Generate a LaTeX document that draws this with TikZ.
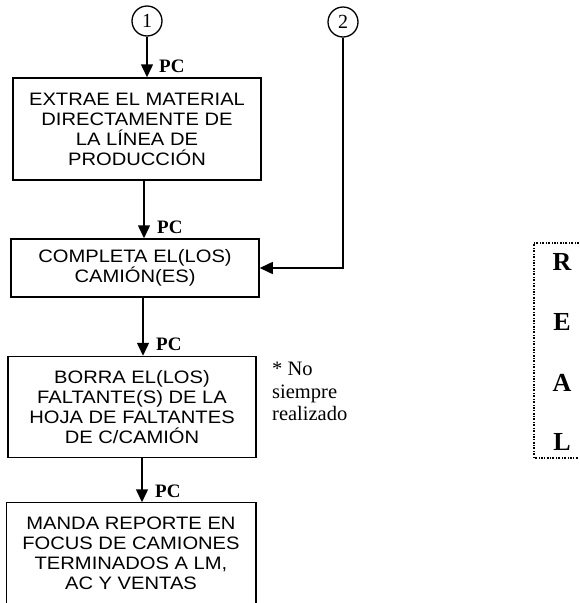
\documentclass[tikz,border=0pt]{standalone}
\usepackage{fontspec}
\setmainfont{Liberation Serif}
\newfontfamily\cajafont[FakeStretch=1.12]{Liberation Sans}
\usepackage{tikz}
\usetikzlibrary{arrows.meta, positioning, shapes}

\begin{document}
\begin{tikzpicture}[
		x=1pt, y=-1pt,
		% Styles des boites et des fleches
		caja/.style={draw=black, line width=1.5pt, minimum width=248pt, align=center, inner sep=0pt, font=\cajafont\fontsize{18}{20}\selectfont},
		cajaAbierta/.style={caja, draw=none},
		conector/.style={draw=black, circle, line width=1.3pt, minimum size=30pt, inner sep=0pt, font=\fontsize{20}{20}\selectfont},
		etiquetaPC/.style={font=\bfseries\fontsize{19}{19}\selectfont, anchor=west, inner sep=0pt},
		letraReal/.style={font=\bfseries\fontsize{26}{26}\selectfont, inner sep=0pt},
		flecha/.style={-{Triangle[length=13pt, width=12pt]}, line width=1.5pt},
		marcoPunteado/.style={line width=1.3pt, dash pattern=on 2pt off 1.5pt on 0.8pt off 1.5pt},
	]
	\useasboundingbox (0,0) rectangle (579,603);
	
	% Conectores
	\node[conector] (uno) at (147,21) {1};
	\node[conector] (dos) at (343,22) {2};
	
	% Boites
	\node[caja, minimum height=102pt] (extrae) at (137,129) {EXTRAE EL MATERIAL\\DIRECTAMENTE DE\\LA LÍNEA DE\\PRODUCCIÓN};
	\node[caja, minimum height=58pt] (completa) at (135,268) {COMPLETA EL(LOS)\\CAMIÓN(ES)};
	\node[caja, minimum height=101pt] (borra) at (132,407) {BORRA EL(LOS)\\FALTANTE(S) DE LA\\HOJA DE FALTANTES\\DE C/CAMIÓN};
	\node[cajaAbierta, minimum height=100pt] (manda) at (131,553) {MANDA REPORTE EN\\FOCUS DE CAMIONES\\TERMINADOS A LM,\\AC Y VENTAS};
	\draw[line width=1.5pt] (manda.south west) -- (manda.north west) -- (manda.north east) -- (manda.south east);
	
	% Fleches
	\draw[flecha] (uno.south) -- (uno.south |- extrae.north);
	\draw[flecha] ([xshift=7pt]extrae.south) -- ([xshift=7pt]extrae.south |- completa.north);
	\draw[flecha] ([xshift=8pt]completa.south) -- ([xshift=8pt]completa.south |- borra.north);
	\draw[flecha] ([xshift=10pt]borra.south) -- ([xshift=10pt]borra.south |- manda.north);
	\draw[flecha] (dos.south) |- (completa.east);
	
	% Etiquettes PC
	\node[etiquetaPC] (pc1) at (159,66) {PC};
	\node[etiquetaPC] (pc2) at (157,227) {PC};
	\node[etiquetaPC] (pc3) at (156,344) {PC};
	\node[etiquetaPC] (pc4) at (155,491) {PC};
	
	\node[anchor=north west, align=left, inner sep=0pt, font=\fontsize{20.5}{22.5}\selectfont] (nota) at (272,362) {* No\\siempre\\realizado};
	
	% Cadre REAL
	\coordinate (marcoA) at (579,243);
	\coordinate (marcoB) at (534,243);
	\coordinate (marcoC) at (534,458);
	\coordinate (marcoD) at (579,458);
	\draw[marcoPunteado] (marcoA) -- (marcoB) -- (marcoC) -- (marcoD);
	
	\node[letraReal] (letraR) at (562,262) {R};
	\node[letraReal] (letraE) at (562,322) {E};
	\node[letraReal] (letraA) at (562,383) {A};
	\node[letraReal] (letraL) at (562,442) {L};
\end{tikzpicture}
\end{document}
